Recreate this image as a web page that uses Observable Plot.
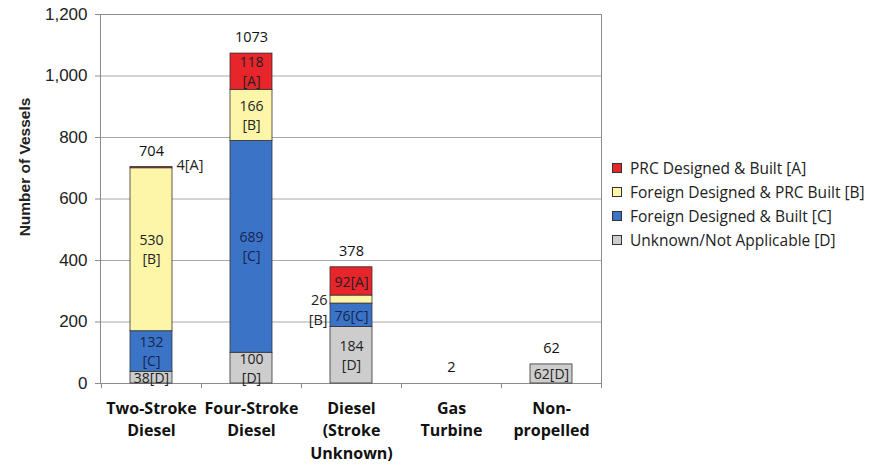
<!DOCTYPE html>
<html>
<head>
<meta charset="utf-8">
<script src="https://cdn.jsdelivr.net/npm/d3@7"></script>
<script src="https://cdn.jsdelivr.net/npm/@observablehq/plot@0.6"></script>
<style>
  html, body { margin: 0; padding: 0; background: #fff; }
  #wrap { position: relative; width: 888px; height: 465px; }
  #legend { position: absolute; left: 612px; top: 156px; font-family: "Open Sans", sans-serif; font-size: 15.5px; color: #222; }
  .row { display: flex; align-items: center; height: 24px; }
  .sw { width: 8px; height: 8px; border: 1px solid #333; margin-right: 8px; }
</style>
</head>
<body>
<div id="wrap"></div>
<script>
const categories = ["Two-Stroke\nDiesel", "Four-Stroke\nDiesel", "Diesel\n(Stroke\nUnknown)", "Gas\nTurbine", "Non-\npropelled"];
const seriesNames = ["PRC Designed & Built [A]", "Foreign Designed & PRC Built [B]", "Foreign Designed & Built [C]", "Unknown/Not Applicable [D]"];
const seriesCodes = ["A", "B", "C", "D"];
const seriesColors = ["#e8252b", "#fdf6a9", "#3b74c6", "#cdcdcd"];
const valuesA = [4, 118, 92, 0, 0];
const valuesB = [530, 166, 26, 0, 0];
const valuesC = [132, 689, 76, 0, 0];
const valuesD = [38, 100, 184, 0, 62];
const totals = [704, 1073, 378, 2, 62];
const yTicks = [0, 200, 400, 600, 800, 1000, 1200];
const yTitle = "Number of Vessels";

// stacking order bottom -> top: D, C, B, A
const bySeries = {A: valuesA, B: valuesB, C: valuesC, D: valuesD};
const order = ["D", "C", "B", "A"];
const rows = [];
categories.forEach((c, i) => {
  let base = 0;
  const segs = order.filter(s => bySeries[s][i] > 0);
  segs.forEach((s, k) => {
    const v = bySeries[s][i];
    rows.push({cat: c, code: s, value: v, y1: base, y2: base + v, top: k === segs.length - 1});
    base += v;
  });
});
const colorOf = s => seriesColors[seriesCodes.indexOf(s)];
const insideTwo = rows.filter(d => d.value >= 95);
const insideOne = rows.filter(d => d.value >= 30 && d.value < 95);
const outsideRight = rows.filter(d => d.value < 30 && d.top);
const outsideLeft = rows.filter(d => d.value < 30 && !d.top);
const totalRows = categories.map((c, i) => ({cat: c, total: totals[i]}));
const labelFill = d => d.code === "C" ? "#17244f" : "#222";

const plot = Plot.plot({
  width: 888,
  height: 465,
  marginLeft: 100,
  marginRight: 287,
  marginTop: 14,
  marginBottom: 82,
  style: {fontFamily: "Open Sans, sans-serif", background: "#fff"},
  x: {domain: categories, paddingInner: 0.58, paddingOuter: 0.29, label: null},
  y: {domain: [0, 1200], label: null},
  marks: [
    Plot.gridY(yTicks, {stroke: "#a8a8a8", strokeOpacity: 1, strokeWidth: 1}),
    Plot.frame({stroke: "#8c8c8c"}),
    Plot.ruleX(categories, {x: d => d, dx: -50, y1: 0, y2: -17, stroke: "#8c8c8c"}),
    Plot.ruleX(categories.slice(-1), {x: d => d, dx: 50, y1: 0, y2: -17, stroke: "#8c8c8c"}),
    Plot.rectY(rows, {x: "cat", y1: "y1", y2: "y2", fill: d => colorOf(d.code), stroke: "#333", strokeWidth: 0.8}),
    Plot.axisY({ticks: yTicks, tickFormat: d3.format(","), tickSize: 5, tickPadding: 8, fontSize: 17, fontFamily: "Liberation Sans, Arial, sans-serif", stroke: "#8c8c8c", fill: "#222", label: null}),
    Plot.axisX({tickSize: 0, tickPadding: 14, fontSize: 16, fontWeight: "bold", lineHeight: 1.42, fill: "#111", label: null}),
    Plot.text([yTitle], {text: d => d, frameAnchor: "left", textAnchor: "middle", rotate: -90, dx: -75, dy: -32, fontSize: 15.5, fontWeight: "bold", fontFamily: "Liberation Sans, Arial, sans-serif", fill: "#222"}),
    Plot.text(insideTwo, {x: "cat", y: d => (d.y1 + d.y2) / 2, text: d => `${d.value}\n[${d.code}]`, fontSize: 14, lineHeight: 1.36, dy: -1, fill: labelFill}),
    Plot.text(insideOne, {x: "cat", y: d => (d.y1 + d.y2) / 2, text: d => `${d.value}[${d.code}]`, fontSize: 14, dy: 1, fill: labelFill}),
    Plot.text(outsideRight, {x: "cat", y: d => (d.y1 + d.y2) / 2, text: d => `${d.value}[${d.code}]`, textAnchor: "start", dx: 25, dy: -2, fontSize: 14.5, fill: "#222"}),
    Plot.text(outsideLeft, {x: "cat", y: d => (d.y1 + d.y2) / 2, text: d => `${d.value}\n[${d.code}]`, textAnchor: "end", dx: -24, dy: 9, fontSize: 14.5, lineHeight: 1.35, fill: "#222"}),
    Plot.text(totalRows, {x: "cat", y: "total", text: d => String(d.total), dy: -16, fontSize: 14.5, fill: "#111"})
  ]
});
document.getElementById("wrap").appendChild(plot);

const legend = document.createElement("div");
legend.id = "legend";
seriesNames.forEach((n, i) => {
  const r = document.createElement("div");
  r.className = "row";
  const sw = document.createElement("span");
  sw.className = "sw";
  sw.style.background = seriesColors[i];
  const t = document.createElement("span");
  t.textContent = n;
  r.appendChild(sw); r.appendChild(t);
  legend.appendChild(r);
});
document.getElementById("wrap").appendChild(legend);
</script>
</body>
</html>
